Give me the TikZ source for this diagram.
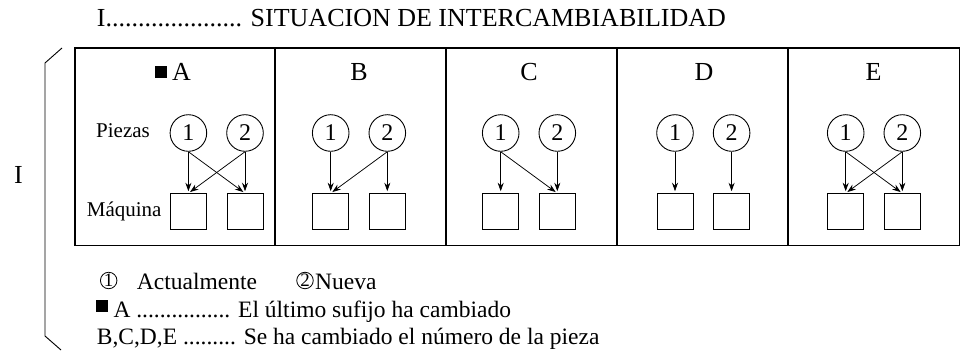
\documentclass[tikz,border=0pt]{standalone}
\usepackage{fontspec}
\setmainfont{Liberation Serif}
\usetikzlibrary{arrows.meta}
\begin{document}
\begin{tikzpicture}[x=1pt,y=-1pt,
  pz/.style={draw,circle,line width=0.9pt,minimum size=36.6pt,inner sep=0pt,font=\fontsize{24}{24}\selectfont},
  mq/.style={draw,rectangle,line width=0.9pt,minimum size=36pt,inner sep=0pt},
  arr/.style={-{Stealth[length=8.5pt,width=6pt]},line width=0.75pt,shorten >=2pt},
  ttl/.style={font=\fontsize{26}{30}\selectfont,inner sep=0pt},
  lbl/.style={font=\fontsize{21}{24}\selectfont,inner sep=0pt},
  leg/.style={font=\fontsize{23.5}{26}\selectfont,inner sep=0pt},
  lcirc/.style={draw,circle,line width=0.8pt,minimum size=16.5pt,inner sep=0pt,font=\fontsize{19}{19}\selectfont},
  blk/.style={fill=black,minimum size=12pt,inner sep=0pt},
  frame/.style={line width=1.1pt}]
\useasboundingbox (0,0) rectangle (961,352);

% title
\node[ttl,anchor=base west] (title) at (96.7,26.7) {I..................... SITUACION DE INTERCAMBIABILIDAD};

% bracket and label
\coordinate (b1) at (62,48);
\coordinate (b2) at (45,63);
\coordinate (b3) at (45,336);
\coordinate (b4) at (61,350);
\draw[line width=0.9pt] (b1) -- (b2) -- (b3) -- (b4);
\node[ttl] (ilbl) at (18.5,174.5) {I};

% frame
\draw[frame] (75,48) rectangle (959.4,245.7);
\foreach \xx in {275,446,617,788} \draw[frame] (\xx,48) -- (\xx,245.7);

% panel letters
\node[blk] (sqA) at (160.8,72.5) {};
\node[ttl,anchor=base west] (lA) at (172,80.5) {A};
\node[ttl,anchor=base] (lB) at (359,80.5) {B};
\node[ttl,anchor=base] (lC) at (529,80.5) {C};
\node[ttl,anchor=base] (lD) at (704,80.5) {D};
\node[ttl,anchor=base] (lE) at (873.5,80.5) {E};

\node[lbl,anchor=west] (piezas) at (96,131) {Piezas};
\node[lbl,anchor=west] (maq) at (86.7,211) {Máquina};

% panels
\foreach \n/\cx in {A/216.7,B/359,C/529,D/703.3,E/874} {
  \node[pz] (c\n1) at (\cx-28.3,133) {1};
  \node[pz] (c\n2) at (\cx+28.3,133) {2};
  \node[mq] (m\n1) at (\cx-28.3,211.7) {};
  \node[mq] (m\n2) at (\cx+28.3,211.7) {};
}

% connectors
\draw[arr] (cA1.south) -- (mA1.north);
\draw[arr] (cA1.south) -- (mA2.north);
\draw[arr] (cA2.south) -- (mA1.north);
\draw[arr] (cA2.south) -- (mA2.north);

\draw[arr] (cB1.south) -- (mB1.north);
\draw[arr] (cB2.south) -- (mB1.north);
\draw[arr] (cB2.south) -- (mB2.north);

\draw[arr] (cC1.south) -- (mC1.north);
\draw[arr] (cC1.south) -- (mC2.north);
\draw[arr] (cC2.south) -- (mC2.north);

\draw[arr] (cD1.south) -- (mD1.north);
\draw[arr] (cD2.south) -- (mD2.north);

\draw[arr] (cE1.south) -- (mE1.north);
\draw[arr] (cE1.south) -- (mE2.north);
\draw[arr] (cE2.south) -- (mE1.north);
\draw[arr] (cE2.south) -- (mE2.north);

% legend
\node[lcirc] (leg1) at (108.7,280.5) {1};
\node[leg,anchor=base west] (legAct) at (136.7,290) {Actualmente};
\node[lcirc] (leg2) at (305,280.5) {2};
\node[leg,anchor=base west] (legNue) at (315,290) {Nueva};
\node[blk] (legsq) at (102.2,305.8) {};
\node[leg,anchor=base west] (legA) at (113.3,318) {A ................ El último sufijo ha cambiado};
\node[leg,anchor=base west] (legB) at (96.7,345) {B,C,D,E ......... Se ha cambiado el número de la pieza};
\end{tikzpicture}
\end{document}
